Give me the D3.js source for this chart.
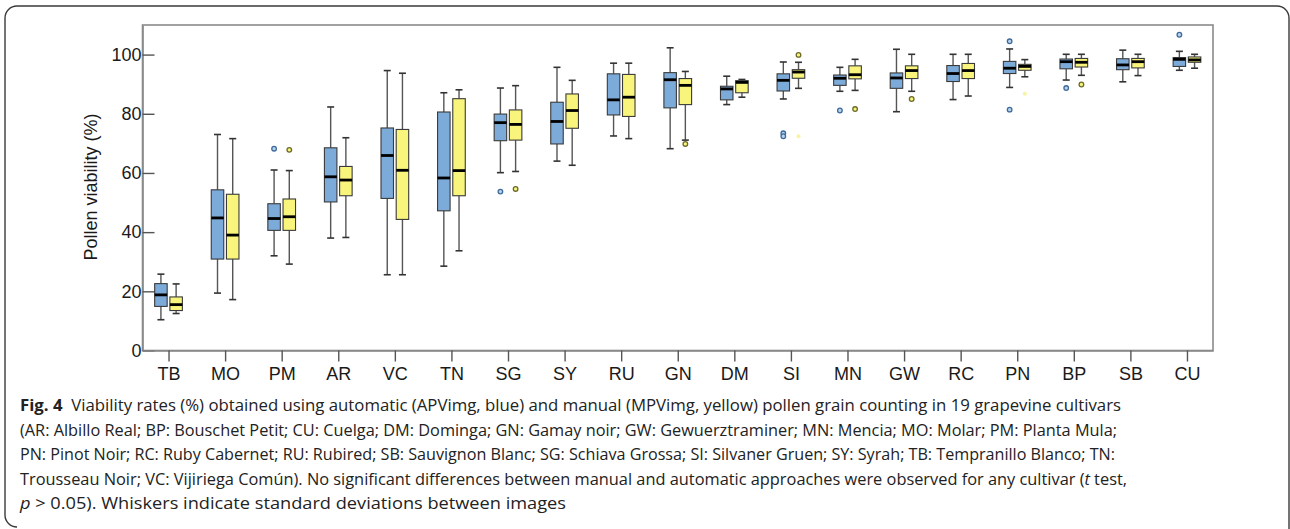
<!DOCTYPE html>
<html>
<head>
<meta charset="utf-8">
<script src="https://cdn.jsdelivr.net/npm/d3@7"></script>
<style>
  html, body { margin: 0; padding: 0; background: #fff; }
  svg { display: block; }
</style>
</head>
<body>
<svg id="chart" width="1290" height="529"></svg>
<script>
// ---------- data ----------
const categories = ["TB","MO","PM","AR","VC","TN","SG","SY","RU","GN","DM","SI","MN","GW","RC","PN","BP","SB","CU"];

// [whisker low, Q1, median, Q3, whisker high]
const autoStats = [
  [10.4, 14.9, 18.8, 22.6, 25.8],
  [19.4, 30.9, 44.8, 54.3, 73.0],
  [32.0, 40.6, 44.6, 49.6, 61.0],
  [38.0, 50.2, 58.7, 68.5, 82.3],
  [25.6, 51.4, 65.9, 75.2, 94.6],
  [28.5, 47.2, 58.3, 80.6, 87.1],
  [60.1, 70.9, 77.0, 79.9, 88.7],
  [64.0, 69.8, 77.4, 83.9, 95.7],
  [72.5, 79.6, 84.7, 93.5, 97.1],
  [68.2, 82.0, 91.5, 93.9, 102.3],
  [83.1, 84.7, 88.4, 89.3, 92.7],
  [85.0, 87.7, 91.3, 93.5, 97.5],
  [87.6, 89.6, 92.0, 93.1, 95.7],
  [80.7, 88.6, 92.1, 93.8, 101.8],
  [84.8, 90.9, 93.6, 96.3, 100.1],
  [88.9, 93.6, 95.4, 97.7, 101.9],
  [91.4, 95.2, 97.6, 98.5, 100.1],
  [90.8, 94.9, 96.5, 98.6, 101.5],
  [94.7, 96.0, 98.4, 99.0, 101.1]
];
const manualStats = [
  [12.5, 13.5, 15.5, 18.1, 22.5],
  [17.2, 30.9, 39.0, 52.8, 71.6],
  [29.2, 40.6, 45.2, 51.2, 60.8],
  [38.2, 52.3, 57.6, 62.2, 71.9],
  [25.6, 44.3, 60.9, 74.7, 93.7],
  [33.7, 52.3, 60.8, 85.1, 88.1],
  [60.5, 71.1, 76.4, 81.3, 89.5],
  [62.6, 75.1, 81.1, 86.7, 91.3],
  [71.6, 79.1, 85.6, 93.3, 97.1],
  [71.1, 83.1, 89.6, 91.9, 94.3],
  [85.6, 87.1, 90.6, 91.2, 91.6],
  [88.6, 92.0, 94.1, 94.9, 97.4],
  [87.9, 91.8, 93.2, 96.2, 98.4],
  [87.6, 91.9, 94.6, 96.2, 100.1],
  [86.0, 91.9, 94.6, 97.0, 100.1],
  [92.5, 94.7, 96.0, 96.7, 98.3],
  [93.0, 95.8, 97.4, 98.7, 100.1],
  [92.9, 95.5, 97.6, 98.7, 100.1],
  [95.4, 97.4, 98.2, 99.2, 100.1]
];
const autoOutliers = [["PM",68.2],["SG",53.7],["SI",73.4],["SI",72.4],["MN",81.1],["PN",104.5],["PN",81.4],["BP",88.7],["CU",106.7]];
const manualOutliers = [["PM",67.8],["SG",54.6],["GN",69.8],["SI",99.9],["MN",81.6],["GW",85.0],["BP",89.9]];
const manualExtremes = [["SI",72.4],["PN",86.8]];
const yTicks = [0, 20, 40, 60, 80, 100];
const yTitle = "Pollen viability (%)";

// ---------- layout ----------
const svg = d3.select("#chart");
const L = 142.5, R = 1213, T = 25, B = 350.5;
const x = d3.scalePoint().domain(categories).range([L, R]).padding(0.46);
const y = d3.scaleLinear().domain([0, 110]).range([B, T]);
const boxW = 12.5, off = 7.6, capW = 7;
const colors = { auto: "#7cabd9", manual: "#f9f57c" };

// card border
svg.append("path")
  .attr("d", "M17,527 A12,12 0 0 1 5,515 L5,18 A12,12 0 0 1 17,6 L1277,6 A12,12 0 0 1 1289,18 L1289,529")
  .attr("fill", "none").attr("stroke", "#3a3a3a").attr("stroke-width", 1.4);

// plot frame
svg.append("rect").attr("x", L).attr("y", T).attr("width", R - L).attr("height", B - T)
  .attr("fill", "#fff").attr("stroke", "#8a8a8a").attr("stroke-width", 1.6);

// axes
const yAxis = svg.append("g").attr("transform", `translate(${L},0)`)
  .call(d3.axisLeft(y).tickValues(yTicks).tickSizeInner(-12).tickSizeOuter(0).tickPadding(1));
const xAxis = svg.append("g").attr("transform", `translate(0,${B})`)
  .call(d3.axisBottom(x).tickSizeInner(11).tickSizeOuter(0).tickPadding(6));
[yAxis, xAxis].forEach(g => {
  g.select(".domain").attr("stroke", "#8a8a8a").attr("stroke-width", 1.6);
  g.selectAll(".tick line").attr("stroke", "#555").attr("stroke-width", 1.4);
  g.selectAll(".tick text").attr("fill", "#1a1a1a")
    .style("font-family", "'Liberation Sans', Arial, sans-serif").style("font-size", "18px");
});

svg.append("text").attr("transform", "translate(97,187) rotate(-90)")
  .attr("text-anchor", "middle").attr("fill", "#1a1a1a")
  .style("font-family", "'Liberation Sans', Arial, sans-serif").style("font-size", "18px")
  .text(yTitle);

// boxes
function drawSeries(stats, dx, fill) {
  const g = svg.append("g");
  const items = stats.map((s, i) => ({ cat: categories[i], s }));
  const grp = g.selectAll("g").data(items).enter().append("g")
    .attr("transform", d => `translate(${x(d.cat) + dx},0)`);
  grp.append("line").attr("y1", d => y(d.s[0])).attr("y2", d => y(d.s[1]))
    .attr("stroke", "#555").attr("stroke-width", 1.4);
  grp.append("line").attr("y1", d => y(d.s[3])).attr("y2", d => y(d.s[4]))
    .attr("stroke", "#555").attr("stroke-width", 1.4);
  grp.append("line").attr("x1", -capW / 2).attr("x2", capW / 2)
    .attr("y1", d => y(d.s[0])).attr("y2", d => y(d.s[0])).attr("stroke", "#333").attr("stroke-width", 1.6);
  grp.append("line").attr("x1", -capW / 2).attr("x2", capW / 2)
    .attr("y1", d => y(d.s[4])).attr("y2", d => y(d.s[4])).attr("stroke", "#333").attr("stroke-width", 1.6);
  grp.append("rect").attr("x", -boxW / 2).attr("width", boxW)
    .attr("y", d => y(d.s[3])).attr("height", d => y(d.s[1]) - y(d.s[3]))
    .attr("fill", fill).attr("stroke", "#3a3a3a").attr("stroke-width", 1.1);
  grp.append("line").attr("x1", -boxW / 2).attr("x2", boxW / 2)
    .attr("y1", d => y(d.s[2])).attr("y2", d => y(d.s[2]))
    .attr("stroke", "#000").attr("stroke-width", 2.8);
}
drawSeries(autoStats, -off, colors.auto);
drawSeries(manualStats, off, colors.manual);

function drawOutliers(list, dx, fill, stroke) {
  svg.append("g").selectAll("circle").data(list).enter().append("circle")
    .attr("cx", d => x(d[0]) + dx).attr("cy", d => y(d[1])).attr("r", 2.3)
    .attr("fill", fill).attr("stroke", stroke).attr("stroke-width", 1.3);
}
drawOutliers(autoOutliers, -off, "#b8d3ee", "#3e6b99");
drawOutliers(manualOutliers, off, "#f9f57c", "#6b6a2a");
svg.append("g").selectAll("circle").data(manualExtremes).enter().append("circle")
  .attr("cx", d => x(d[0]) + off).attr("cy", d => y(d[1])).attr("r", 2)
  .attr("fill", "#f6f08a").attr("opacity", 0.8);

// caption
const capFont = "'Open Sans', 'Noto Sans', sans-serif";
const capX = 20;
const capLines = [
  { base: 411, end: 1121, parts: [["Fig. 4", "bold"], ["  Viability rates (%) obtained using automatic (APVimg, blue) and manual (MPVimg, yellow) pollen grain counting in 19 grapevine cultivars", ""]] },
  { base: 435.5, end: 1117, parts: [["(AR: Albillo Real; BP: Bouschet Petit; CU: Cuelga; DM: Dominga; GN: Gamay noir; GW: Gewuerztraminer; MN: Mencia; MO: Molar; PM: Planta Mula;", ""]] },
  { base: 460, end: 1115, parts: [["PN: Pinot Noir; RC: Ruby Cabernet; RU: Rubired; SB: Sauvignon Blanc; SG: Schiava Grossa; SI: Silvaner Gruen; SY: Syrah; TB: Tempranillo Blanco; TN:", ""]] },
  { base: 484.5, end: 1127, parts: [["Trousseau Noir; VC: Vijiriega Común). No significant differences between manual and automatic approaches were observed for any cultivar (", ""], ["t", "italic"], [" test,", ""]] },
  { base: 509, end: 566, parts: [["p", "italic"], [" > 0.05). Whiskers indicate standard deviations between images", ""]] }
];
capLines.forEach(line => {
  const t = svg.append("text").attr("x", capX).attr("y", line.base)
    .attr("fill", "#222").style("font-family", capFont).style("font-size", "16px")
    .attr("textLength", line.end - capX).attr("lengthAdjust", "spacingAndGlyphs")
    .attr("xml:space", "preserve");
  line.parts.forEach(p => {
    const ts = t.append("tspan").text(p[0]);
    if (p[1] === "bold") ts.attr("font-weight", "bold");
    if (p[1] === "italic") ts.attr("font-style", "italic");
  });
});
</script>
</body>
</html>
